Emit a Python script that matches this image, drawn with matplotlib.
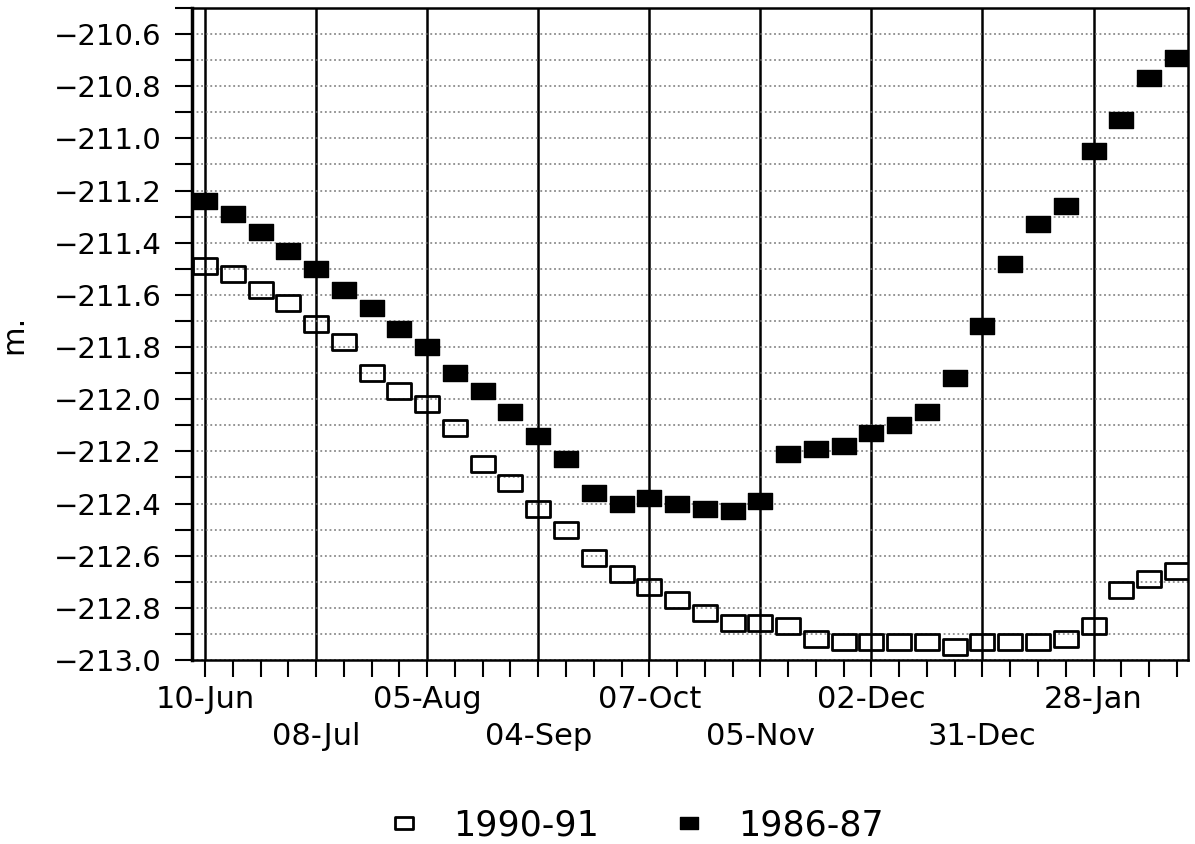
import numpy as np
import matplotlib.pyplot as plt
from matplotlib.path import Path
from matplotlib.ticker import MultipleLocator

# weekly readings, index 0 = 10-Jun
weeks = np.arange(36)

level_1990 = [-211.49, -211.52, -211.58, -211.63, -211.71, -211.78, -211.90, -211.97,
              -212.02, -212.11, -212.25, -212.32, -212.42, -212.50, -212.61, -212.67,
              -212.72, -212.77, -212.82, -212.86, -212.86, -212.87, -212.92, -212.93,
              -212.93, -212.93, -212.93, -212.95, -212.93, -212.93, -212.93, -212.92,
              -212.87, -212.73, -212.69, -212.66]

level_1986 = [-211.24, -211.29, -211.36, -211.43, -211.50, -211.58, -211.65, -211.73,
              -211.80, -211.90, -211.97, -212.05, -212.14, -212.23, -212.36, -212.40,
              -212.38, -212.40, -212.42, -212.43, -212.39, -212.21, -212.19, -212.18,
              -212.13, -212.10, -212.05, -211.92, -211.72, -211.48, -211.33, -211.26,
              -211.05, -210.93, -210.77, -210.69]

tick_weeks = [0, 4, 8, 12, 16, 20, 24, 28, 32]
tick_labels = ['10-Jun', '08-Jul', '05-Aug', '04-Sep', '07-Oct',
               '05-Nov', '02-Dec', '31-Dec', '28-Jan']

plt.rcParams['font.family'] = ['DejaVu Sans']

# wide flat box marker like the old plotter
box = Path([(-1, -0.7), (1, -0.7), (1, 0.7), (-1, 0.7), (-1, -0.7)],
           [Path.MOVETO, Path.LINETO, Path.LINETO, Path.LINETO, Path.CLOSEPOLY])

fig = plt.figure(figsize=(11.95, 8.44), dpi=100)
ax = fig.add_axes([0.1607, 0.218, 0.8334, 0.7725])

ax.plot(weeks, level_1990, ls='none', marker=box, ms=17, mfc='none',
        mec='black', mew=2, label='1990-91', zorder=3)
ax.plot(weeks, level_1986, ls='none', marker=box, ms=17, mfc='black',
        mec='black', mew=1, label='1986-87', zorder=3)

ax.set_xlim(-0.47, 35.4)
ax.set_ylim(-213.0, -210.5)

ax.yaxis.set_major_locator(MultipleLocator(0.2))
ax.yaxis.set_minor_locator(MultipleLocator(0.1))
ax.yaxis.set_major_formatter(plt.FuncFormatter(lambda v, p: f'{v:.1f}'.replace('-', '\u2212')))
ax.set_xticks(tick_weeks)
ax.set_xticklabels([lab if i % 2 == 0 else '\n' + lab for i, lab in enumerate(tick_labels)],
                   linespacing=1.35)
ax.set_xticks(weeks, minor=True)

ax.tick_params(axis='both', which='both', direction='out', length=12, width=1.5,
               labelsize=21)
ax.tick_params(axis='x', which='major', pad=6, labelsize=22)
ax.tick_params(axis='y', which='major', pad=10)

ax.grid(axis='y', which='both', color='#777777', ls=(0, (1.2, 1.8)), lw=1.1)
ax.grid(axis='x', which='major', color='black', ls='-', lw=1.8)
ax.set_axisbelow(True)

for sp in ax.spines.values():
    sp.set_linewidth(1.8)
ax.spines['left'].set_linewidth(2.5)

ax.set_ylabel('m.', fontsize=22, labelpad=18)

fig.legend(loc='lower center', bbox_to_anchor=(0.53, -0.035), ncol=2, frameon=False,
           fontsize=25, markerscale=0.75, handlelength=1.2, handletextpad=0.8,
           columnspacing=2.0)

fig.savefig('out.png', dpi=100)
